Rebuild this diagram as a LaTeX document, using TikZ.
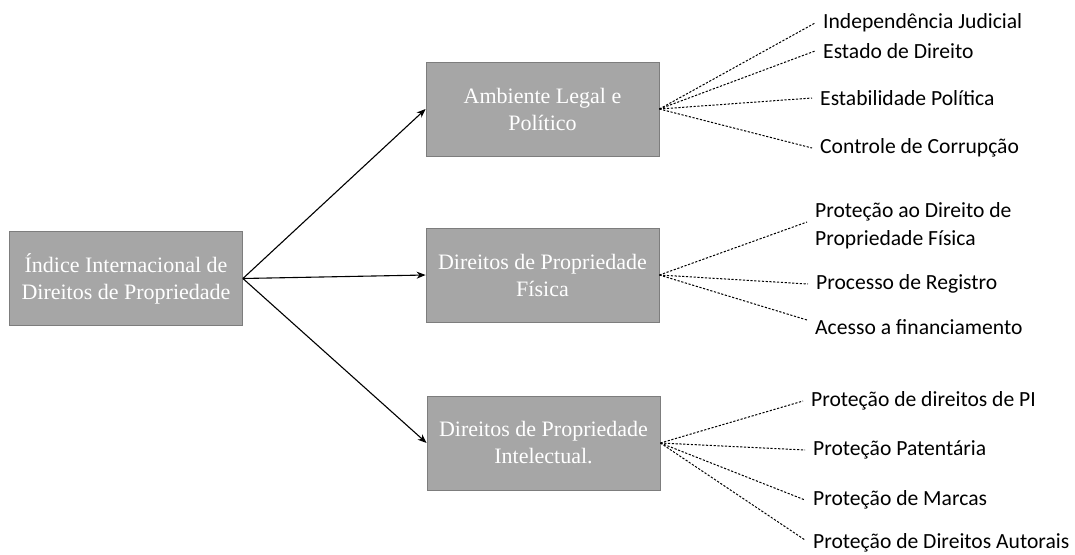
\documentclass[tikz,border=0pt]{standalone}
\usepackage{fontspec}
\setmainfont{Liberation Serif}
\newfontfamily\calib{Carlito}
\usetikzlibrary{arrows.meta}
\definecolor{boxfill}{RGB}{166,166,166}
\definecolor{boxline}{RGB}{125,125,125}
\tikzset{
  catbox/.style={draw=boxline, line width=0.8pt, fill=boxfill, text=white,
    minimum width=233pt, minimum height=94pt, align=center, inner sep=2pt,
    font=\fontsize{22}{27}\selectfont},
  leaf/.style={anchor=west, inner xsep=8pt, inner ysep=0pt, align=left,
    font=\calib\fontsize{21.6}{28}\selectfont},
  arr/.style={-{Stealth[length=9pt,width=7pt]}, line width=1.1pt, black},
  dotline/.style={dashed, dash pattern=on 2.2pt off 1.6pt, line width=1pt, black}
}
\begin{document}
\begin{tikzpicture}[x=1pt,y=-1pt]
\useasboundingbox (0,0) rectangle (1075,554);
\node[catbox] (root) at (126,278.5) {Índice Internacional de\\Direitos de Propriedade};
\node[catbox] (amb) at (542.5,109) {Ambiente Legal e\\Político};
\node[catbox] (fis) at (542.5,275) {Direitos de Propriedade\\Física};
\node[catbox] (int) at (543.5,443) {Direitos de Propriedade\\Intelectual.};

\draw[arr] (root.east) -- (amb.west);
\draw[arr] (root.east) -- (fis.west);
\draw[arr] (root.east) -- (int.west);

\node[leaf] (a1) at (815,23) {Independência Judicial};
\node[leaf] (a2) at (815,51) {Estado de Direito};
\node[leaf] (a3) at (812,98) {Estabilidade Política};
\node[leaf] (a4) at (812,148) {Controle de Corrupção};

\node[leaf] (f1) at (807,226) {Proteção ao Direito de\\Propriedade Física};
\node[leaf] (f2) at (808,284) {Processo de Registro};
\node[leaf] (f3) at (807,327) {Acesso a financiamento};

\node[leaf] (i1) at (803,401) {Proteção de direitos de PI};
\node[leaf] (i2) at (805,450) {Proteção Patentária};
\node[leaf] (i3) at (805,500) {Proteção de Marcas};
\node[leaf] (i4) at (805,543) {Proteção de Direitos Autorais};

\foreach \t in {a1,a2,a3,a4} \draw[dotline] (amb.east) -- (\t.west);
\draw[dotline] (fis.east) -- ([yshift=4pt]f1.west);
\draw[dotline] (fis.east) -- (f2.west);
\draw[dotline] (fis.east) -- ([yshift=7pt]f3.west);
\foreach \t in {i1,i2,i3} \draw[dotline] (int.east) -- (\t.west);
\draw[dotline] (int.east) -- ([yshift=3pt]i4.west);
\end{tikzpicture}
\end{document}
